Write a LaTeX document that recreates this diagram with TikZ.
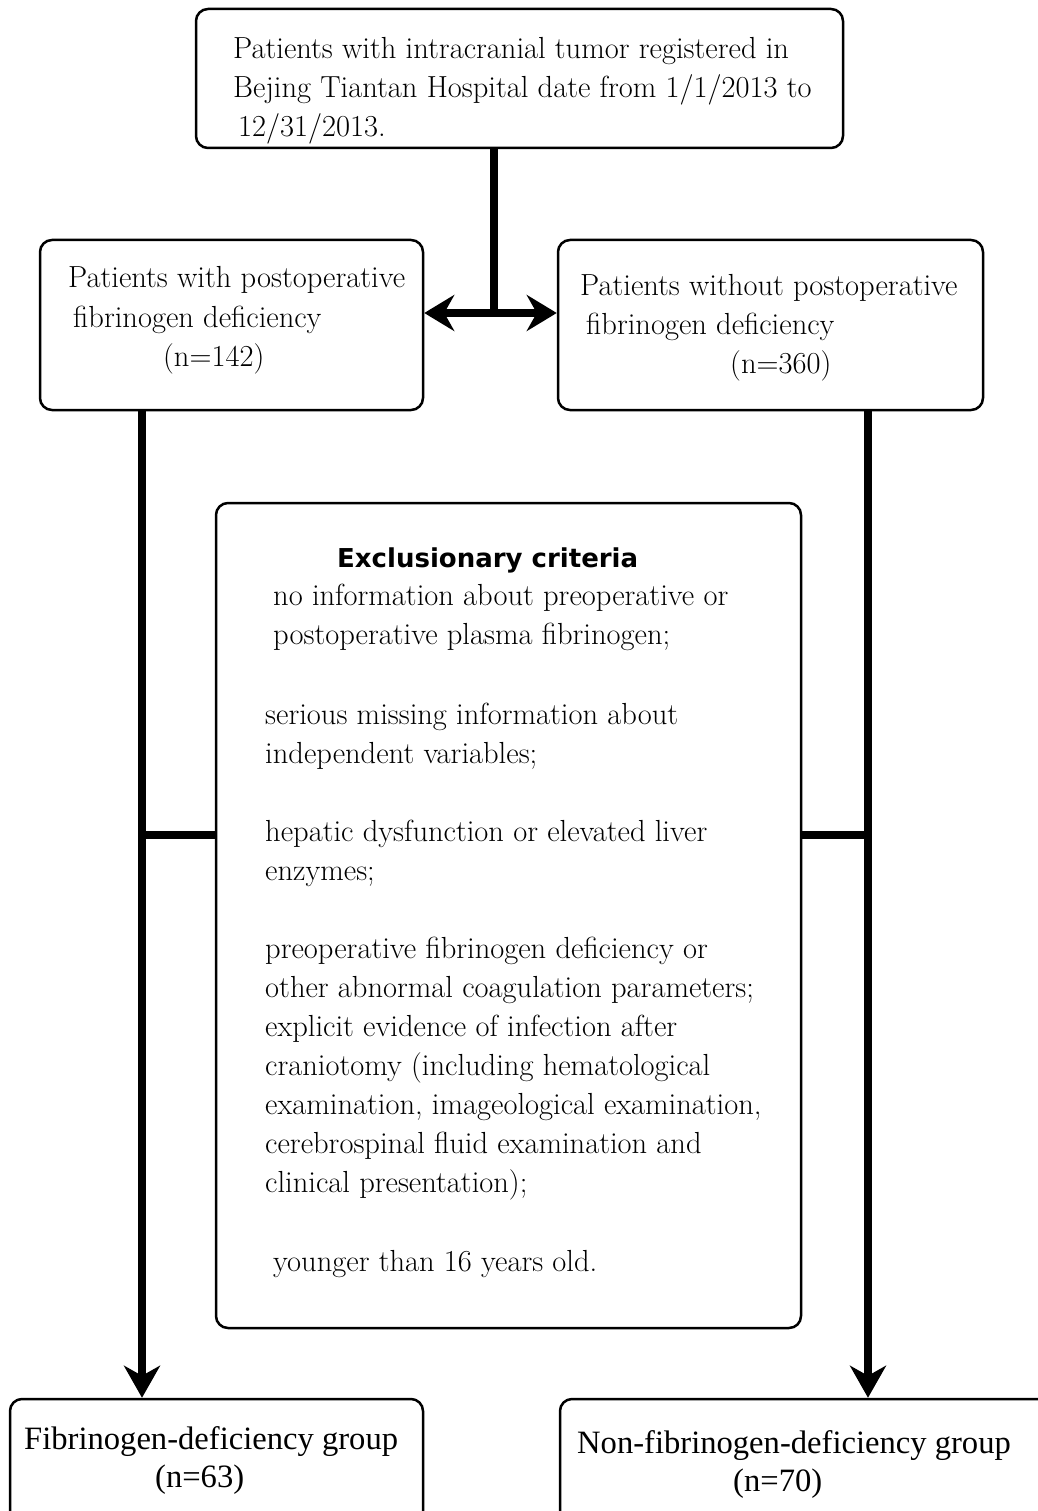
\documentclass[tikz,border=0pt]{standalone}
\usepackage{fontspec}
\newfontfamily\groupfont{Liberation Serif}
\newfontfamily\headfont{DejaVu Sans}
\usetikzlibrary{arrows.meta,positioning,calc}

\begin{document}
\begin{tikzpicture}[x=1pt,y=-1pt,
	box/.style={draw,line width=2.5pt,rounded corners=12pt,inner sep=0pt},
	conn/.style={line width=8pt},
	tip/.style={arrows={-Stealth[length=32pt,width=36pt,inset=10pt]}},
	both/.style={arrows={Stealth[length=30pt,width=36pt,inset=10pt]-Stealth[length=30pt,width=36pt,inset=10pt]}},
	txt/.style={anchor=base west,align=left,inner sep=0pt,font=\fontsize{30.5}{39}\selectfont},
	grp/.style={anchor=base west,align=left,inner sep=0pt,font=\groupfont\fontsize{32.6}{38}\selectfont}]
		\useasboundingbox (0,0) rectangle (1037,1511);
		% boxes
		\node[box,minimum width=647pt,minimum height=139pt] (reg) at (519.5,78.5) {};
		\node[box,minimum width=383pt,minimum height=170pt] (withdef) at (231.5,325) {};
		\node[box,minimum width=425pt,minimum height=170pt] (nodef) at (770.5,325) {};
		\node[box,minimum width=585pt,minimum height=825pt] (excl) at (508.5,915.5) {};
		\node[box,minimum width=413pt,minimum height=141pt] (defgrp) at (216.5,1469.5) {};
		\node[box,minimum width=510pt,minimum height=141pt] (nondefgrp) at (815,1469.5) {};
		% texts (anchored at the baseline of their last line)
		\node[txt] (regtext) at (233,137) {Patients with intracranial tumor registered in\\Bejing Tiantan Hospital date from 1/1/2013 to\\\hspace*{5pt}12/31/2013.};
		\node[txt] (withtext) at (68,366) {Patients with postoperative\\\hspace*{5pt}fibrinogen deficiency\\\hspace*{95pt}(n=142)};
		\node[txt] (notext) at (580,373) {Patients without postoperative\\\hspace*{6pt}fibrinogen deficiency\\\hspace*{150pt}(n=360)};
		\node[anchor=base west,inner sep=0pt,font=\headfont\bfseries\fontsize{26}{30}\selectfont] (head) at (337,567) {Exclusionary criteria};
		\node[txt] (crit1) at (273,644) {no information about preoperative or\\postoperative plasma fibrinogen;};
		\node[txt] (crit2) at (265,1192) {serious missing information about\\independent variables;\\[39pt]hepatic dysfunction or elevated liver\\enzymes;\\[39pt]preoperative fibrinogen deficiency or\\other abnormal coagulation parameters;\\explicit evidence of infection after\\craniotomy (including hematological\\examination, imageological examination,\\cerebrospinal fluid examination and\\clinical presentation);};
		\node[txt] (crit3) at (273,1271) {younger than 16 years old.};
		\node[grp] (deftext) at (24,1487) {Fibrinogen-deficiency group\\\hspace*{131pt}(n=63)};
		\node[grp] (nondeftext) at (577,1491) {Non-fibrinogen-deficiency group\\\hspace*{156pt}(n=70)};
		% connectors
		\coordinate (split) at (494,313);
		\coordinate (ldrop) at (142,835);
		\coordinate (rdrop) at (868,835);
		\draw[conn] (reg.south -| split) -- (split);
		\draw[conn,both] (withdef.east |- split) -- (nodef.west |- split);
		\draw[conn,tip] (withdef.south -| ldrop) -- (defgrp.north -| ldrop);
		\draw[conn,tip] (nodef.south -| rdrop) -- (nondefgrp.north -| rdrop);
		\draw[conn] (ldrop) -- (excl.west |- ldrop);
		\draw[conn] (excl.east |- rdrop) -- (rdrop);
\end{tikzpicture}
\end{document}
